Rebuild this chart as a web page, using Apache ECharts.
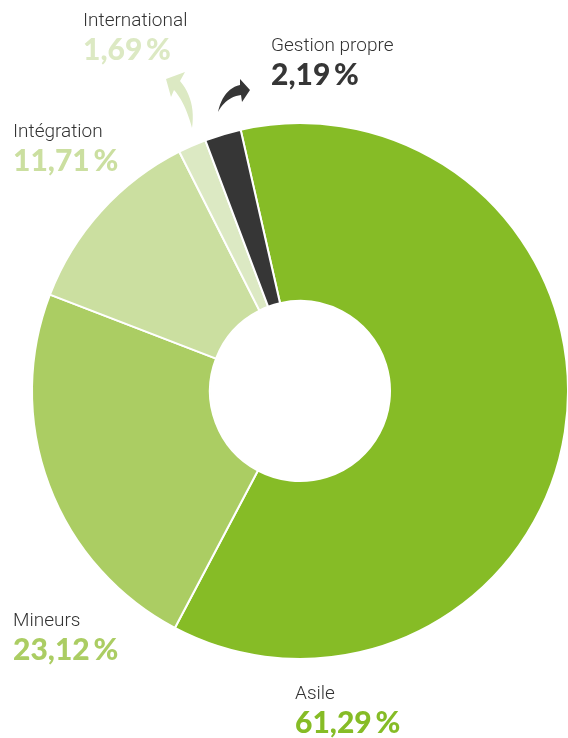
<!DOCTYPE html>
<html>
<head>
<meta charset="utf-8">
<script src="https://cdn.jsdelivr.net/npm/echarts@6/dist/echarts.min.js"></script>
<style>
  html, body { margin: 0; padding: 0; background: #fff; }
  #chart { width: 568px; height: 738px; }
</style>
</head>
<body>
<div id="chart"></div>
<script>
// parts du budget, sens horaire depuis le haut
const categories = ['Asile', 'Mineurs', 'Intégration', 'International', 'Gestion propre'];
const shares = [61.29, 23.12, 11.71, 1.69, 2.19];

const colors = ['#86bc26', '#abcd63', '#cbdfa0', '#dce9c3', '#363636'];
// where each label block sits (left x, top y)
const labelPos = [[295, 682], [13, 609], [13, 120], [83, 9], [271, 34]];

const nameFont = "Roboto, 'Liberation Sans', sans-serif";
const pctFont = "Lato, 'Liberation Sans', sans-serif";

const fmt = v => v.toFixed(2).replace('.', ',') + '\u2009%';

// quadratic curve sampled to points (for the small arrows)
function quad(p0, c, p1, n) {
  const pts = [];
  for (let k = 1; k <= n; k++) {
    const t = k / n, u = 1 - t;
    pts.push([u * u * p0[0] + 2 * u * t * c[0] + t * t * p1[0],
              u * u * p0[1] + 2 * u * t * c[1] + t * t * p1[1]]);
  }
  return pts;
}
function arrow(tip, a, s1, ctl1, end, ctl2, s2, b) {
  return [tip, a, s1].concat(quad(s1, ctl1, end, 12), quad(end, ctl2, s2, 12), [b]);
}

const rich = {};
colors.forEach((c, i) => {
  rich['p' + i] = { fontFamily: pctFont, fontWeight: 900, fontSize: 30, lineHeight: 35, color: c };
});
rich.n = { fontFamily: nameFont, fontWeight: 300, fontSize: 19, lineHeight: 24, color: '#333' };

const chart = echarts.init(document.getElementById('chart'), null, { renderer: 'canvas' });

chart.setOption({
  animation: false,
  series: [{
    type: 'pie',
    center: [300, 391],
    radius: [90, 268],
    startAngle: 102.8,
    clockwise: true,
    avoidLabelOverlap: false,
    itemStyle: { borderColor: '#fff', borderWidth: 2 },
    emphasis: { disabled: true },
    labelLine: { show: false },
    label: {
      show: true,
      position: 'outside',
      formatter: p => '{n|' + p.name + '}\n{p' + p.dataIndex + '|' + fmt(p.value) + '}',
      rich: rich
    },
    labelLayout: p => ({
      x: labelPos[p.dataIndex][0],
      y: labelPos[p.dataIndex][1],
      align: 'left',
      verticalAlign: 'top'
    }),
    data: categories.map((name, i) => ({
      name: name,
      value: shares[i],
      itemStyle: { color: colors[i] }
    }))
  }],
  graphic: [
    { // flèche International
      type: 'polygon',
      shape: { points: arrow([166, 79], [185, 72], [180, 81], [196, 100], [192, 128], [185, 102], [174, 90], [171, 97]) },
      style: { fill: colors[3] }
    },
    { // flèche Gestion propre
      type: 'polygon',
      shape: { points: arrow([250, 90], [240, 79], [240, 85], [223, 89], [218, 112], [226, 97], [241, 95], [242, 102]) },
      style: { fill: colors[4] }
    }
  ]
});
</script>
</body>
</html>
